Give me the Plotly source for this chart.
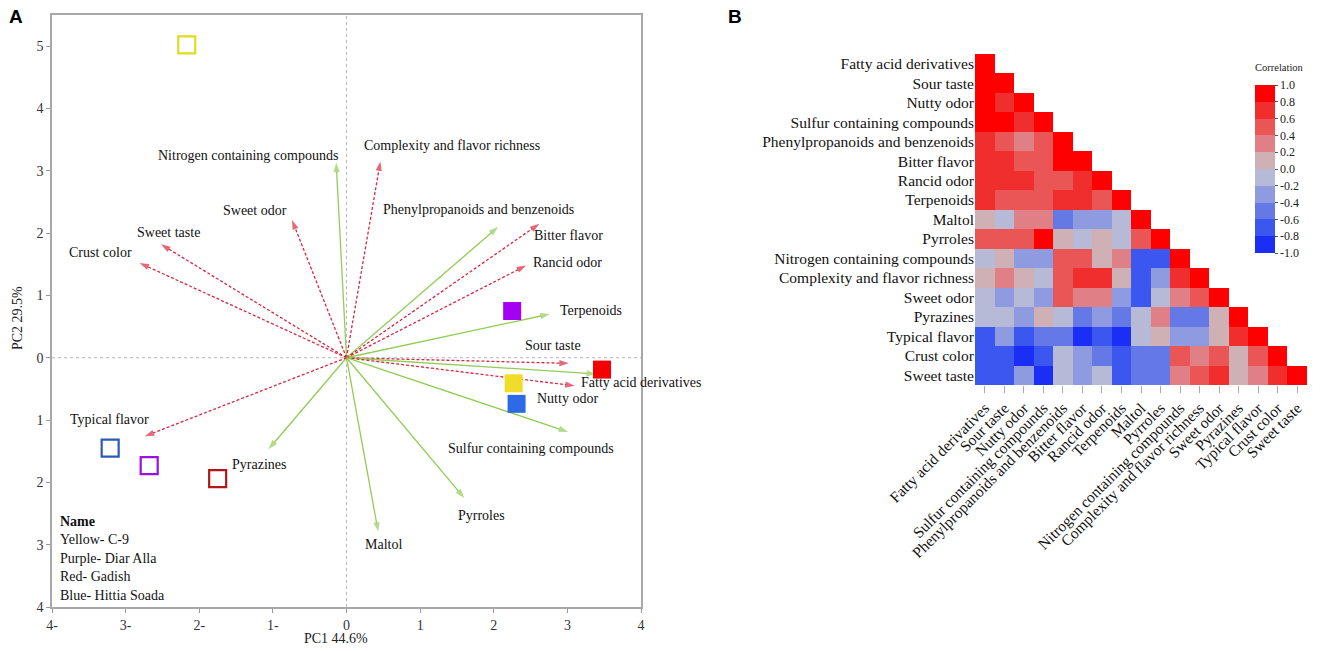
import plotly.graph_objects as go

# ---------------- Panel A: PCA biplot data ----------------
pca_vars = ["Nitrogen containing compounds", "Complexity and flavor richness", "Sweet odor",
            "Sweet taste", "Crust color", "Phenylpropanoids and benzenoids", "Bitter flavor",
            "Rancid odor", "Terpenoids", "Sour taste", "Fatty acid derivatives", "Nutty odor",
            "Sulfur containing compounds", "Pyrroles", "Maltol", "Pyrazines", "Typical flavor"]
pc1_loading = [-0.14, 0.46, -0.74, -2.52, -2.81, 2.06, 2.62, 2.44, 2.76, 3.02, 3.39, 3.10,
               3.01, 1.60, 0.43, -1.06, -2.74]
pc2_loading = [3.13, 3.15, 2.21, 1.82, 1.52, 2.10, 2.15, 1.48, 0.70, -0.09, -0.26, -0.45,
               -1.19, -2.25, -2.79, -1.47, -1.26]
var_type = ["compound", "sensory", "sensory", "sensory", "sensory", "compound", "sensory",
            "sensory", "compound", "sensory", "compound", "sensory", "compound", "compound",
            "compound", "compound", "sensory"]

sample_names = ["C-9", "Diar Alla", "Gadish", "Hittia Soada"]
sample_colour_names = ["Yellow", "Purple", "Red", "Blue"]
pc1_open = [-2.17, -2.68, -1.75, -3.21]
pc2_open = [5.02, -1.73, -1.94, -1.45]
pc1_filled = [2.27, 2.25, 3.47, 2.31]
pc2_filled = [-0.41, 0.75, -0.19, -0.74]

x_ticks = [-4, -3, -2, -1, 0, 1, 2, 3, 4]
x_ticktext = ["4-", "3-", "2-", "1-", "0", "1", "2", "3", "4"]
y_ticks = [-4, -3, -2, -1, 0, 1, 2, 3, 4, 5]
y_ticktext = ["4", "3", "2", "1", "0", "1", "2", "3", "4", "5"]

# ---------------- Panel B: correlation heatmap data ----------------
corr_vars = ["Fatty acid derivatives", "Sour taste", "Nutty odor", "Sulfur containing compounds",
             "Phenylpropanoids and benzenoids", "Bitter flavor", "Rancid odor", "Terpenoids",
             "Maltol", "Pyrroles", "Nitrogen containing compounds",
             "Complexity and flavor richness", "Sweet odor", "Pyrazines", "Typical flavor",
             "Crust color", "Sweet taste"]
corr_rows = [
    [1.0],
    [0.9, 1.0],
    [0.9, 0.7, 1.0],
    [0.9, 0.9, 0.7, 1.0],
    [0.7, 0.5, 0.3, 0.5, 1.0],
    [0.7, 0.7, 0.5, 0.5, 0.9, 1.0],
    [0.7, 0.7, 0.7, 0.5, 0.5, 0.7, 1.0],
    [0.7, 0.5, 0.5, 0.5, 0.7, 0.7, 0.5, 1.0],
    [0.1, -0.1, 0.3, 0.3, -0.5, -0.3, -0.3, -0.1, 1.0],
    [0.5, 0.5, 0.5, 0.9, 0.1, -0.1, 0.1, -0.1, 0.5, 1.0],
    [-0.1, 0.1, -0.3, -0.3, 0.5, 0.5, 0.1, 0.3, -0.7, -0.7, 1.0],
    [0.1, 0.3, 0.1, -0.1, 0.5, 0.7, 0.7, 0.1, -0.7, -0.3, 0.7, 0.9],
    [-0.1, -0.3, -0.1, -0.3, 0.5, 0.3, 0.3, -0.3, -0.7, -0.1, 0.3, 0.5, 1.0],
    [-0.1, -0.1, -0.3, 0.1, -0.1, -0.5, -0.3, -0.5, -0.1, 0.3, -0.5, -0.5, 0.1, 1.0],
    [-0.7, -0.3, -0.7, -0.5, -0.5, -0.9, -0.7, -0.9, -0.1, 0.1, -0.3, -0.3, 0.1, 0.7, 1.0],
    [-0.7, -0.7, -0.9, -0.7, -0.1, -0.3, -0.5, -0.7, -0.5, -0.5, 0.5, 0.3, 0.5, 0.1, 0.5, 1.0],
    [-0.7, -0.7, -0.3, -0.9, -0.1, -0.3, -0.1, -0.7, -0.5, -0.5, 0.3, 0.5, 0.7, 0.1, 0.3, 0.7, 0.9],
]
cbar_ticks = [-1.0, -0.8, -0.6, -0.4, -0.2, 0.0, 0.2, 0.4, 0.6, 0.8, 1.0]

# ---------------- styles ----------------
SERIF = "Liberation Serif, Times New Roman, serif"
SANS = "Liberation Sans, Arial, sans-serif"
W, H = 1325, 651
type_style = {
    "sensory": dict(color="#d8283f", dash="3px,2px"),
    "compound": dict(color="#92cc55", dash="solid"),
}
open_colours = ["#e0dc1e", "#9a10e0", "#b01818", "#2a5ab8"]
filled_colours = ["#f2dc2a", "#a400f4", "#f40000", "#2e6ae6"]

# label placement (pixel offsets from the arrow tip)
label_pos = {
    "Nitrogen containing compounds": ("right", 4, 7),
    "Complexity and flavor richness": ("left", -18, 16),
    "Sweet odor": ("center", -37, 10),
    "Sweet taste": ("center", 8, 12),
    "Crust color": ("center", -39, 11),
    "Phenylpropanoids and benzenoids": ("left", -117, 17),
    "Bitter flavor": ("left", -7, -12),
    "Rancid odor": ("left", 5, 3),
    "Terpenoids": ("left", 8, 4),
    "Sour taste": ("center", -16, 18),
    "Fatty acid derivatives": ("left", -17, -9),
    "Nutty odor": ("left", -40, -13),
    "Sulfur containing compounds": ("center", -37, -17),
    "Pyrroles": ("center", 17, -18),
    "Maltol": ("center", 5, -13),
    "Pyrazines": ("center", -9, -15),
    "Typical flavor": ("center", -35, 17),
}

fig = go.Figure()

# loading arrows
for name, px1, py2, t in zip(pca_vars, pc1_loading, pc2_loading, var_type):
    st = type_style[t]
    fig.add_trace(go.Scatter(
        x=[0, px1], y=[0, py2], mode="lines+markers", xaxis="x", yaxis="y",
        line=dict(color=st["color"], width=1.3, dash=st["dash"]),
        marker=dict(symbol="arrow", angleref="previous", size=[0, 10], color=st["color"],
                    line=dict(width=0)),
        showlegend=False, hoverinfo="skip"))

# sample scores
fig.add_trace(go.Scatter(
    x=pc1_open, y=pc2_open, mode="markers", xaxis="x", yaxis="y",
    marker=dict(symbol="square-open", size=17, color=open_colours, line=dict(width=2.2)),
    text=sample_names, showlegend=False))
fig.add_trace(go.Scatter(
    x=pc1_filled, y=pc2_filled, mode="markers", xaxis="x", yaxis="y",
    marker=dict(symbol="square", size=18, color=filled_colours, line=dict(width=0)),
    text=sample_names, showlegend=False))

# heatmap (lower triangle)
n = len(corr_vars)
z = [row + [None] * (n - len(row)) for row in corr_rows]
bins = ["#1a2ef6", "#3c57ef", "#6479e6", "#8e9be0", "#b6bad6",
        "#cfb0b5", "#e07f85", "#ea5656", "#f02e2e", "#ff0000"]
colorscale = []
for i, c in enumerate(bins):
    colorscale.append([i / 10, c])
    colorscale.append([(i + 1) / 10, c])
fig.add_trace(go.Heatmap(
    z=z, x=corr_vars, y=corr_vars, xaxis="x2", yaxis="y2",
    zmin=-1, zmax=1, colorscale=colorscale, hoverongaps=False,
    colorbar=dict(
        x=1255 / W, xanchor="left", y=1 - 85 / H, yanchor="top",
        len=168 / H, lenmode="fraction", thickness=20, outlinewidth=0,
        xpad=0, ypad=0,
        tickvals=cbar_ticks, ticktext=[f"{v:.1f}" for v in cbar_ticks],
        ticks="outside", ticklen=3, tickcolor="#555",
        tickfont=dict(family=SERIF, size=12, color="#222")),
))

annotations = []
for name, px1, py2 in zip(pca_vars, pc1_loading, pc2_loading):
    anc, xs, ys = label_pos[name]
    annotations.append(dict(
        x=px1, y=py2, xref="x", yref="y", text=name, showarrow=False,
        xanchor=anc, yanchor="middle", xshift=xs, yshift=ys,
        font=dict(family=SERIF, size=14, color="#111")))

# sample key
key_lines = ["<b>Name</b>"] + [f"{c}- {s}" for c, s in zip(sample_colour_names, sample_names)]
for i, txt in enumerate(key_lines):
    annotations.append(dict(
        x=58 / W, y=1 - (521 + 18.6 * i) / H, xref="paper", yref="paper", text=txt,
        showarrow=False, xanchor="left", yanchor="middle",
        font=dict(family=SERIF, size=14, color="#111")))

# axis titles, colorbar title & panel letters
annotations += [
    dict(x=336 / W, y=1 - 638 / H, xref="paper", yref="paper", text="PC1 44.6%",
         showarrow=False, xanchor="center", yanchor="middle",
         font=dict(family=SERIF, size=14, color="#222")),
    dict(x=17 / W, y=1 - 318 / H, xref="paper", yref="paper", text="PC2 29.5%",
         textangle=-90, showarrow=False, xanchor="center", yanchor="middle",
         font=dict(family=SERIF, size=14, color="#222")),
    dict(x=1279 / W, y=1 - 67 / H, xref="paper", yref="paper", text="Correlation",
         showarrow=False, xanchor="center", yanchor="middle",
         font=dict(family=SERIF, size=10.5, color="#222")),
    dict(x=7 / W, y=1 - 17 / H, xref="paper", yref="paper", text="<b>A</b>",
         showarrow=False, xanchor="left", yanchor="middle",
         font=dict(family=SANS, size=19, color="#000")),
    dict(x=726 / W, y=1 - 17 / H, xref="paper", yref="paper", text="<b>B</b>",
         showarrow=False, xanchor="left", yanchor="middle",
         font=dict(family=SANS, size=19, color="#000")),
]

shapes = [
    dict(type="line", xref="x", yref="paper", x0=0, x1=0, y0=1 - 607 / H, y1=1 - 15 / H,
         line=dict(color="#b8b8b8", width=1, dash="dot"), layer="below"),
    dict(type="line", xref="paper", yref="y", x0=52 / W, x1=641 / W, y0=0, y1=0,
         line=dict(color="#b8b8b8", width=1, dash="dot"), layer="below"),
]

tickfont = dict(family=SERIF, size=14, color="#333")
hm_font = dict(family=SERIF, size=15.5, color="#111")
fig.update_layout(
    width=W, height=H, margin=dict(l=0, r=0, t=0, b=0, autoexpand=False),
    paper_bgcolor="white", plot_bgcolor="white", showlegend=False,
    annotations=annotations, shapes=shapes,
    xaxis=dict(domain=[52 / W, 641 / W], range=[-4, 4], anchor="y", automargin=False,
               tickvals=x_ticks, ticktext=x_ticktext, ticks="outside", ticklen=4,
               tickcolor="#999", tickfont=tickfont, showgrid=False, zeroline=False,
               showline=True, mirror=True, linecolor="#a8a8a8", linewidth=1.5),
    yaxis=dict(domain=[1 - 607 / H, 1 - 15 / H], range=[-4, 5.5], anchor="x", automargin=False,
               tickvals=y_ticks, ticktext=y_ticktext, ticks="outside", ticklen=4,
               tickcolor="#999", tickfont=tickfont, showgrid=False, zeroline=False,
               showline=True, mirror=True, linecolor="#a8a8a8", linewidth=1.5),
    xaxis2=dict(domain=[975 / W, 1307 / W], anchor="y2", tickangle=-45, automargin=False,
                ticks="outside", ticklen=7, tickcolor="#aaa", tickfont=hm_font,
                showgrid=False, zeroline=False, showline=False),
    yaxis2=dict(domain=[1 - 385 / H, 1 - 54 / H], anchor="x2", autorange="reversed",
                automargin=False, ticks="", tickfont=hm_font, showgrid=False,
                zeroline=False, showline=False),
)

fig.write_html("out.html", config={"displayModeBar": False},
               post_script="document.body.style.margin='0';document.body.style.overflow='hidden';")
